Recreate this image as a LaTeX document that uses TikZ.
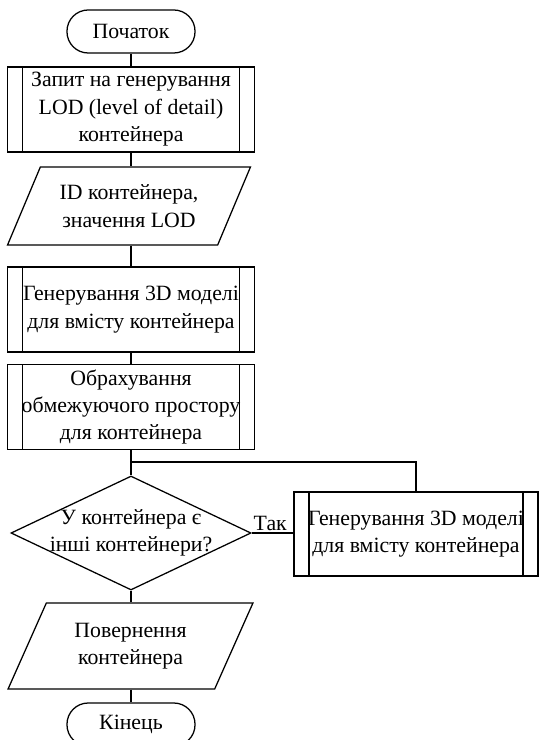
\documentclass[tikz,border=0pt]{standalone}
\usepackage{fontspec}
\setmainfont{Liberation Serif}
\usetikzlibrary{shapes.geometric}

\tikzset{
  base/.style={draw, line width=0.9pt, align=center, inner sep=1pt, font=\fontsize{15.5}{19.5}\selectfont},
  term/.style={base, rectangle, rounded corners=0.53cm, minimum width=3.2cm, minimum height=1.075cm},
  subproc/.style={base, rectangle, minimum width=6.175cm, minimum height=2.125cm,
    path picture={\draw[line width=0.9pt]
      ([xshift=0.375cm]path picture bounding box.north west) -- ([xshift=0.375cm]path picture bounding box.south west)
      ([xshift=-0.375cm]path picture bounding box.north east) -- ([xshift=-0.375cm]path picture bounding box.south east);}},
  io/.style={base, trapezium, trapezium left angle=60, trapezium right angle=120, trapezium stretches=true,
    minimum width=6.075cm, minimum height=1.95cm},
  decision/.style={base, diamond, minimum width=6cm, minimum height=2.85cm},
  flow/.style={line width=0.9pt}
}

\begin{document}
\begin{tikzpicture}[x=0.025cm, y=-0.025cm, flow]
	\useasboundingbox (0,0) rectangle (538,740);
	\node[term] (start) at (131,31.5) {Початок};
	\node[subproc] (req) at (131,109.5) {Запит на генерування\\LOD (level of detail)\\контейнера};
	\node[io] (input) at (129,206) {ID контейнера,\\значення LOD};
	\node[subproc] (gen) at (131,309.5) {Генерування 3D моделі\\для вмісту контейнера};
	\node[subproc] (bound) at (131,407) {Обрахування\\обмежуючого простору\\для контейнера};
	\node[decision, label={[font=\fontsize{15.5}{19.5}\selectfont, align=center]center:У контейнера є\\інші контейнери?}] (check) at (131,533) {};
	\node[subproc, minimum width=6.1cm, minimum height=2.1cm] (gensub) at (416,534) {Генерування 3D моделі\\для вмісту контейнера};
	\node[io, trapezium left angle=62, trapezium right angle=118, minimum width=6.125cm, minimum height=2.15cm] (output) at (130.5,646) {Повернення\\контейнера};
	\node[term] (finish) at (131,724.5) {Кінець};
	\coordinate (loop) at (131,462);
	\draw (start) -- (req);
	\draw (req) -- (req |- input.north);
	\draw (input.south -| gen) -- (gen);
	\draw (gen) -- (bound);
	\draw (bound) -- (check);
	\draw (loop) -| (gensub);
	\draw (check.east) to node [above right, inner sep=1pt, pos=0, font=\fontsize{15.5}{19.5}\selectfont] {Так} (check.east -| gensub.west);
	\draw (check) -- (check |- output.north);
	\draw (output.south -| finish) -- (finish);
\end{tikzpicture}
\end{document}
